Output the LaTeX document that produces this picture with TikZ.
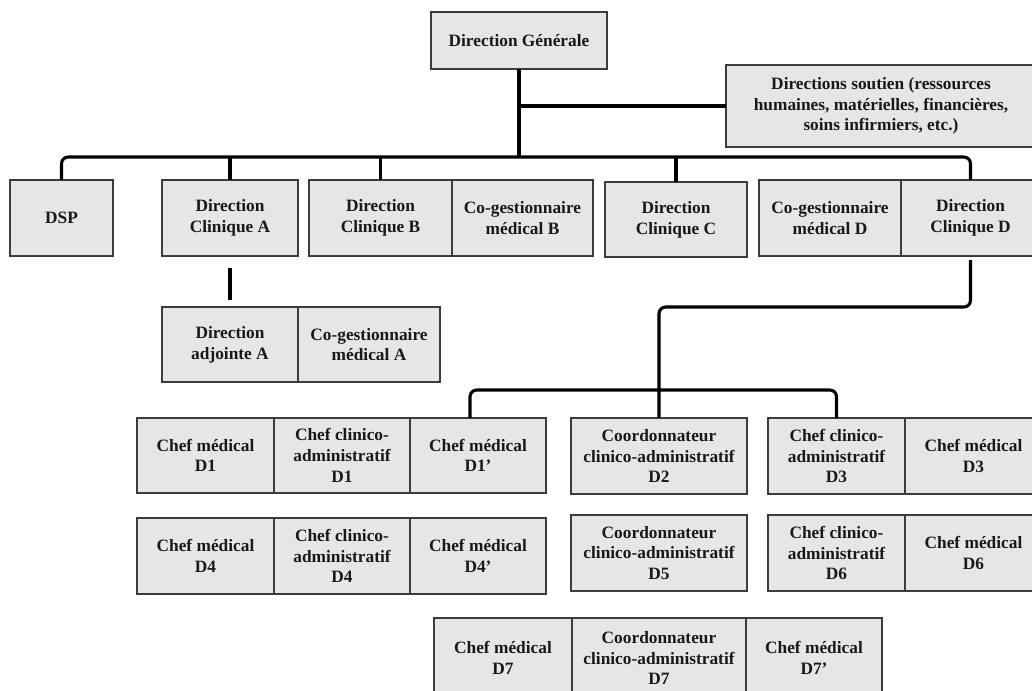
\documentclass[tikz,border=0pt]{standalone}
\usepackage{fontspec}
\setmainfont{Liberation Serif}
\usetikzlibrary{shadows}
\definecolor{boxfill}{RGB}{230,230,230}
\definecolor{boxline}{RGB}{60,60,60}
\definecolor{ink}{RGB}{25,25,25}
% one organisational box from its corners (x1,y1)-(x2,y2), in pixel units
\newcommand{\obox}[6]{%
  \node[box, minimum width={(#4-#2)*0.75pt}, minimum height={(#5-#3)*0.75pt}]
    (#1) at ({(#2+#4)/2},{(#3+#5)/2}) {#6};}
\begin{document}
\begin{tikzpicture}[x=0.75pt, y=-0.75pt,
  box/.style={draw=boxline, line width=1.1pt, fill=boxfill, inner sep=0pt, outer sep=0pt,
    align=center, text=ink, font=\fontsize{13}{15.5}\selectfont\bfseries,
    drop shadow={shadow xshift=0.9pt, shadow yshift=-0.9pt, fill=black, opacity=0.22}},
  conn/.style={draw=black, line width=2.3pt, rounded corners=5pt}]
\useasboundingbox (0,0) rectangle (1032,690);
\clip (0,0) rectangle (1032,690);

% top level
\obox{dg}{431}{12}{607}{69}{Direction Générale}
\obox{ds}{726}{65}{1036}{147}{Directions soutien (ressources\\humaines, matérielles, financières,\\soins infirmiers, etc.)}

% directions
\obox{dsp}{10}{180}{113}{256}{DSP}
\obox{dca}{162}{180}{298}{256}{Direction\\Clinique A}
\obox{dcb}{309}{180}{452}{256}{Direction\\Clinique B}
\obox{cgb}{452}{180}{593}{256}{Co-gestionnaire\\médical B}
\obox{dcc}{605}{182}{747}{257}{Direction\\Clinique C}
\obox{cgd}{759}{180}{901}{256}{Co-gestionnaire\\médical D}
\obox{dcd}{901}{180}{1040}{256}{Direction\\Clinique D}

% direction adjointe A
\obox{daa}{162}{307}{298}{382}{Direction\\adjointe A}
\obox{cga}{298}{307}{440}{382}{Co-gestionnaire\\médical A}

% D1 / D2 / D3
\obox{cmdi}{137}{418}{274}{493}{Chef médical\\D1}
\obox{ccdi}{274}{418}{410}{493}{Chef clinico-\\administratif\\D1}
\obox{cmdip}{410}{418}{546}{493}{Chef médical\\D1’}
\obox{cod}{571}{418}{747}{494}{Coordonnateur\\clinico-administratif\\D2}
\obox{ccdiii}{768}{418}{905}{494}{Chef clinico-\\administratif\\D3}
\obox{cmdiii}{905}{418}{1042}{494}{Chef médical\\D3}

% D4 / D5 / D6
\obox{cmdiv}{137}{518}{274}{594}{Chef médical\\D4}
\obox{ccdiv}{274}{518}{410}{594}{Chef clinico-\\administratif\\D4}
\obox{cmdivp}{410}{518}{546}{594}{Chef médical\\D4’}
\obox{codv}{571}{515}{747}{591}{Coordonnateur\\clinico-administratif\\D5}
\obox{ccdvi}{768}{515}{905}{591}{Chef clinico-\\administratif\\D6}
\obox{cmdvi}{905}{515}{1042}{591}{Chef médical\\D6}

% D7
\obox{cmdvii}{434}{618}{572}{698}{Chef médical\\D7}
\obox{codvii}{572}{618}{746}{698}{Coordonnateur\\clinico-administratif\\D7}
\obox{cmdviip}{746}{618}{882}{698}{Chef médical\\D7’}

% connectors
\coordinate (bus) at (519,157);
\coordinate (sub) at (659,307);
\coordinate (bustwo) at (659,390);
\draw[conn] (dg.south) -- (bus);
\draw[conn] (dg.south |- ds.west) -- (ds.west);
\draw[conn] (dsp.north) |- (bus) -| (dcd.north);
\draw[conn] (dca.north) -- (dca.north |- bus);
\draw[conn] (dcb.north) -- (dcb.north |- bus);
\draw[conn] (dcc.north) -- (dcc.north |- bus);
\draw[conn, shorten <=9pt, shorten >=5pt] (dca.south) -- (daa.north);
\draw[conn, shorten <=3pt] (dcd.south) |- (sub) -- (cod.north);
\draw[conn] ([xshift=-6pt]cmdip.north) |- (bustwo) -| (ccdiii.north);
\end{tikzpicture}
\end{document}
